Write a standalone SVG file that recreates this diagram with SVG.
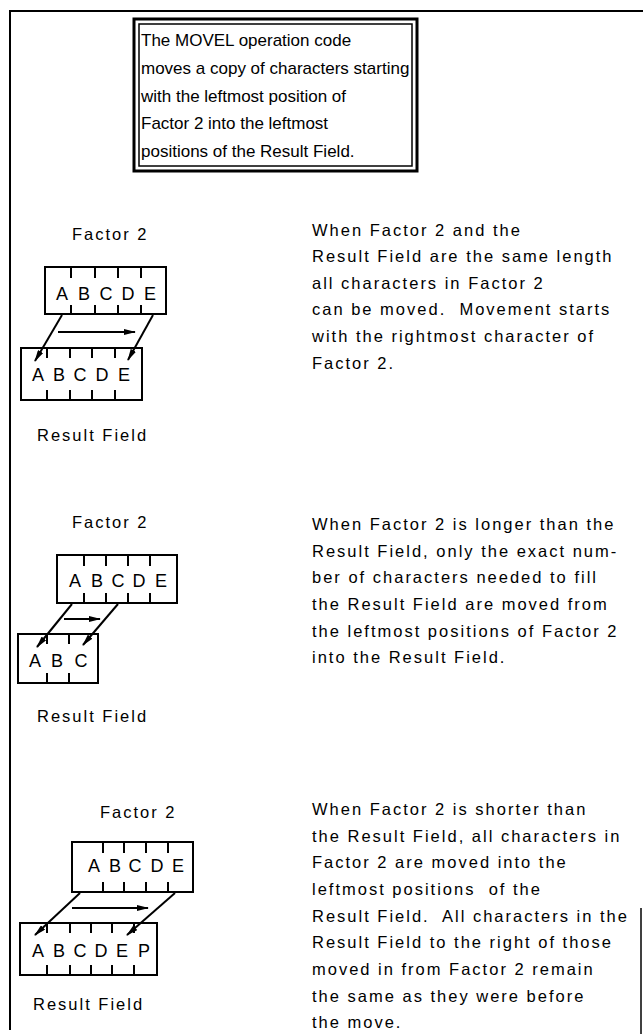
<svg xmlns="http://www.w3.org/2000/svg" width="643" height="1034" viewBox="0 0 643 1034">
<style>
.t{font-family:"Liberation Sans",Arial,sans-serif;font-size:16.5px;letter-spacing:2px;fill:#000}
.tb{font-family:"Liberation Sans",Arial,sans-serif;font-size:17px;fill:#000}
.ch{font-family:"Liberation Sans",Arial,sans-serif;font-size:18px;fill:#000;text-anchor:middle}
.box{fill:none;stroke:#000;stroke-width:2}
.tick{stroke:#000;stroke-width:2}
.arr{stroke:#000;stroke-width:2;fill:none;marker-end:url(#ah)}
.frame{stroke:#000;fill:none}
</style>
<defs>
<marker id="ah" viewBox="0 0 12 6" refX="11" refY="3" markerWidth="12" markerHeight="6" markerUnits="userSpaceOnUse" orient="auto">
<path d="M0,0 L12,3 L0,6 Z" fill="#000"/>
</marker>
</defs>
<rect width="643" height="1034" fill="#fff"/>
<g id="page-border">
<path class="frame" stroke-width="2" d="M10,1030 V11 H643"/>
<path class="frame" stroke-width="1.5" d="M641,908 V1034"/>
</g>
<g id="intro-box">
<rect x="134" y="19" width="283" height="152" fill="none" stroke="#000" stroke-width="3"/>
<rect x="139" y="24" width="273" height="142" fill="none" stroke="#000" stroke-width="1.5"/>
<text class="tb" x="141" y="46">The MOVEL operation code</text>
<text class="tb" x="141" y="74">moves a copy of characters starting</text>
<text class="tb" x="141" y="102">with the leftmost position of</text>
<text class="tb" x="141" y="129">Factor 2 into the leftmost</text>
<text class="tb" x="141" y="157">positions of the Result Field.</text>
</g>
<g id="same-length">
<text class="t" x="72" y="240">Factor 2</text>
<g id="same-factor2">
<rect class="box" x="45" y="267" width="121" height="47"/>
<path class="tick" d="M71,267v11M95,267v11M118,267v11M141,267v11M71,314v-9M95,314v-9M118,314v-9M141,314v-9"/>
<text class="ch" y="300"><tspan x="62">A</tspan><tspan x="84">B</tspan><tspan x="106">C</tspan><tspan x="128">D</tspan><tspan x="150">E</tspan></text>
</g>
<g id="same-result">
<rect class="box" x="21" y="348" width="121" height="52"/>
<path class="tick" d="M47,348v10M70,348v10M92,348v10M115,348v10M47,400v-10M70,400v-10M92,400v-10M115,400v-10"/>
<text class="ch" y="381"><tspan x="38">A</tspan><tspan x="59">B</tspan><tspan x="80">C</tspan><tspan x="102">D</tspan><tspan x="124">E</tspan></text>
</g>
<text class="t" x="37" y="441">Result Field</text>
<text class="t" x="312" y="236">When Factor 2 and the</text>
<text class="t" x="312" y="262">Result Field are the same length</text>
<text class="t" x="312" y="289">all characters in Factor 2</text>
<text class="t" x="312" y="315" xml:space="preserve">can be moved.  Movement starts</text>
<text class="t" x="312" y="342">with the rightmost character of</text>
<text class="t" x="312" y="369">Factor 2.</text>
</g>
<g id="longer">
<text class="t" x="72" y="528">Factor 2</text>
<g id="longer-factor2">
<rect class="box" x="57" y="555" width="120" height="48"/>
<path class="tick" d="M84,555v11M106,555v11M128,555v11M150,555v11M84,603v-10M106,603v-10M128,603v-10M150,603v-10"/>
<text class="ch" y="587"><tspan x="75">A</tspan><tspan x="97">B</tspan><tspan x="118">C</tspan><tspan x="139">D</tspan><tspan x="161">E</tspan></text>
</g>
<g id="longer-result">
<rect class="box" x="18" y="634" width="80" height="49"/>
<path class="tick" d="M47,634v10M69,634v10M47,683v-10M69,683v-10"/>
<text class="ch" y="667"><tspan x="35">A</tspan><tspan x="57">B</tspan><tspan x="81">C</tspan></text>
</g>
<text class="t" x="37" y="722">Result Field</text>
<text class="t" x="312" y="530">When Factor 2 is longer than the</text>
<text class="t" x="312" y="557">Result Field, only the exact num-</text>
<text class="t" x="312" y="583">ber of characters needed to fill</text>
<text class="t" x="312" y="610">the Result Field are moved from</text>
<text class="t" x="312" y="637">the leftmost positions of Factor 2</text>
<text class="t" x="312" y="663">into the Result Field.</text>
</g>
<g id="shorter">
<text class="t" x="100" y="818">Factor 2</text>
<g id="shorter-factor2">
<rect class="box" x="72" y="842" width="121" height="50"/>
<path class="tick" d="M103,842v11M124,842v11M146,842v11M168,842v11M103,892v-10M124,892v-10M146,892v-10M168,892v-10"/>
<text class="ch" y="872"><tspan x="94">A</tspan><tspan x="115">B</tspan><tspan x="135">C</tspan><tspan x="157">D</tspan><tspan x="178">E</tspan></text>
</g>
<g id="shorter-result">
<rect class="box" x="20" y="923" width="137" height="52"/>
<path class="tick" d="M47,923v10M70,923v10M91,923v10M112,923v10M134,923v10M47,975v-10M70,975v-10M91,975v-10M112,975v-10M134,975v-10"/>
<text class="ch" y="957"><tspan x="38">A</tspan><tspan x="59">B</tspan><tspan x="80">C</tspan><tspan x="101">D</tspan><tspan x="122">E</tspan><tspan x="144">P</tspan></text>
</g>
<text class="t" x="33" y="1010">Result Field</text>
<text class="t" x="312" y="815">When Factor 2 is shorter than</text>
<text class="t" x="312" y="842">the Result Field, all characters in</text>
<text class="t" x="312" y="868">Factor 2 are moved into the</text>
<text class="t" x="312" y="895" xml:space="preserve">leftmost positions  of the</text>
<text class="t" x="312" y="922" xml:space="preserve">Result Field.  All characters in the</text>
<text class="t" x="312" y="948">Result Field to the right of those</text>
<text class="t" x="312" y="975">moved in from Factor 2 remain</text>
<text class="t" x="312" y="1002">the same as they were before</text>
<text class="t" x="312" y="1028">the move.</text>
</g>
<g id="connectors">
<path class="arr" d="M58,332H135"/>
<path class="arr" d="M62,315L35,361"/>
<path class="arr" d="M153,315L128,360"/>
<path class="arr" d="M64,619H100"/>
<path class="arr" d="M72,604L37,647"/>
<path class="arr" d="M118,604L83,645"/>
<path class="arr" d="M72,908H148"/>
<path class="arr" d="M80,893L35,935"/>
<path class="arr" d="M175,893L127,935"/>
</g>
</svg>
